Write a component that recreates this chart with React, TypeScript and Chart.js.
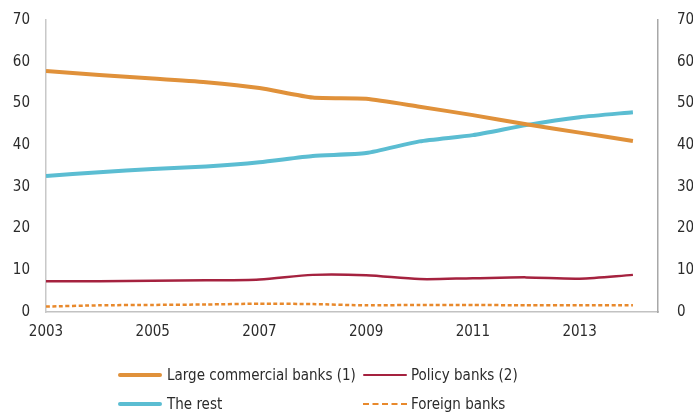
import React, { useEffect, useRef } from "react";
import { Chart, registerables } from "chart.js";

Chart.register(...registerables);

const years = [2003, 2004, 2005, 2006, 2007, 2008, 2009, 2010, 2011, 2012, 2013, 2014];
const largeCommercial = [57.8, 56.8, 56.0, 55.1, 53.7, 51.4, 51.1, 49.2, 47.2, 45.0, 43.0, 41.0];
const theRest = [32.6, 33.5, 34.3, 34.9, 35.9, 37.4, 38.1, 40.9, 42.4, 44.8, 46.7, 47.9];
const policyBanks = [7.4, 7.4, 7.5, 7.6, 7.8, 8.9, 8.8, 7.9, 8.1, 8.3, 8.0, 8.9];
const foreignBanks = [1.3, 1.6, 1.7, 1.8, 2.0, 1.9, 1.6, 1.7, 1.7, 1.6, 1.6, 1.6];
const xTickLabels = [2003, 2005, 2007, 2009, 2011, 2013];
const yTicks = [0, 10, 20, 30, 40, 50, 60, 70];

const FONT = "'DejaVu Sans Condensed', 'DejaVu Sans', sans-serif";
const ORANGE = "#e0913a";
const BLUE = "#5bbdd2";
const RED = "#a5223f";
const DASH = "#e8892c";
const TEXT = "#2b2b2b";

const pts = (vals: number[]) => vals.map((v, i) => ({ x: years[i], y: v }));

export default function App() {
  const ref = useRef<HTMLCanvasElement | null>(null);
  useEffect(() => {
    if (!ref.current) return;
    const yScaleCommon = {
      type: "linear" as const,
      min: 0,
      max: 70,
      afterBuildTicks: (s: any) => {
        s.ticks = yTicks.map((v) => ({ value: v }));
      },
      grid: { display: false, drawTicks: false },
      ticks: { color: TEXT, font: { family: FONT, size: 15 } },
    };
    const chart = new Chart(ref.current, {
      type: "line",
      data: {
        datasets: [
          { label: "Large commercial banks (1)", data: pts(largeCommercial), borderColor: ORANGE, borderWidth: 4, pointRadius: 0, tension: 0.2, yAxisID: "y" },
          { label: "Policy banks (2)", data: pts(policyBanks), borderColor: RED, borderWidth: 2.5, pointRadius: 0, tension: 0.3, yAxisID: "y" },
          { label: "The rest", data: pts(theRest), borderColor: BLUE, borderWidth: 4, pointRadius: 0, tension: 0.2, yAxisID: "y" },
          { label: "Foreign banks", data: pts(foreignBanks), borderColor: DASH, borderWidth: 2.5, borderDash: [4, 2.5], pointRadius: 0, tension: 0.2, yAxisID: "y" },
        ],
      },
      options: {
        animation: false,
        responsive: false,
        maintainAspectRatio: false,
        layout: { padding: { left: 0, right: 0, top: 20, bottom: 70 } },
        plugins: { legend: { display: false }, tooltip: { enabled: false } },
        scales: {
          x: {
            type: "linear",
            min: 2003,
            max: 2014.47,
            afterBuildTicks: (s: any) => {
              s.ticks = xTickLabels.map((v) => ({ value: v }));
            },
            afterFit: (s: any) => {
              s.height = 30;
              s.paddingLeft = 0;
              s.paddingRight = 0;
            },
            grid: { display: false, drawTicks: false },
            border: { display: true, color: "#c2c2c2", width: 1.5 },
            ticks: { color: TEXT, font: { family: FONT, size: 15 }, padding: 11, callback: (v: any) => String(v), maxRotation: 0, autoSkip: false },
          },
          y: {
            ...yScaleCommon,
            position: "left",
            afterFit: (s: any) => {
              s.width = 46;
              s.paddingTop = 0;
              s.paddingBottom = 0;
            },
            border: { display: true, color: "#c8c8c8", width: 1.5 },
            ticks: { ...yScaleCommon.ticks, padding: 16 },
          },
          y1: {
            ...yScaleCommon,
            position: "right",
            afterFit: (s: any) => {
              s.width = 35;
              s.paddingTop = 0;
              s.paddingBottom = 0;
            },
            border: { display: true, color: "#a8a8a8", width: 1.5 },
            ticks: { ...yScaleCommon.ticks, padding: 19 },
          },
        },
      },
    });
    return () => chart.destroy();
  }, []);

  const legendText: React.CSSProperties = {
    position: "absolute",
    fontFamily: FONT,
    fontSize: 15,
    color: TEXT,
    lineHeight: "18px",
    whiteSpace: "nowrap",
  };
  const sample = (left: number, top: number, color: string, h: number, dashed = false): React.CSSProperties => ({
    position: "absolute",
    left,
    top: top - h / 2,
    width: 44,
    height: dashed ? 0 : h,
    borderTop: dashed ? `${h}px dashed ${color}` : undefined,
    background: dashed ? undefined : color,
    borderRadius: dashed ? 0 : h / 2,
  });

  return (
    <div style={{ position: "fixed", left: 0, top: 0, width: 693, height: 412, background: "#fff", overflow: "hidden" }}>
      <canvas ref={ref} width={693} height={412} style={{ position: "absolute", left: 0, top: 0, width: 693, height: 412 }} />
      <div style={sample(118, 375, ORANGE, 4)} />
      <div style={{ ...legendText, left: 167, top: 366 }}>Large commercial banks (1)</div>
      <div style={sample(363, 375, RED, 2)} />
      <div style={{ ...legendText, left: 411, top: 366 }}>Policy banks (2)</div>
      <div style={sample(118, 404, BLUE, 4)} />
      <div style={{ ...legendText, left: 167, top: 395 }}>The rest</div>
      <div style={sample(363, 404, DASH, 2, true)} />
      <div style={{ ...legendText, left: 411, top: 395 }}>Foreign banks</div>
    </div>
  );
}
